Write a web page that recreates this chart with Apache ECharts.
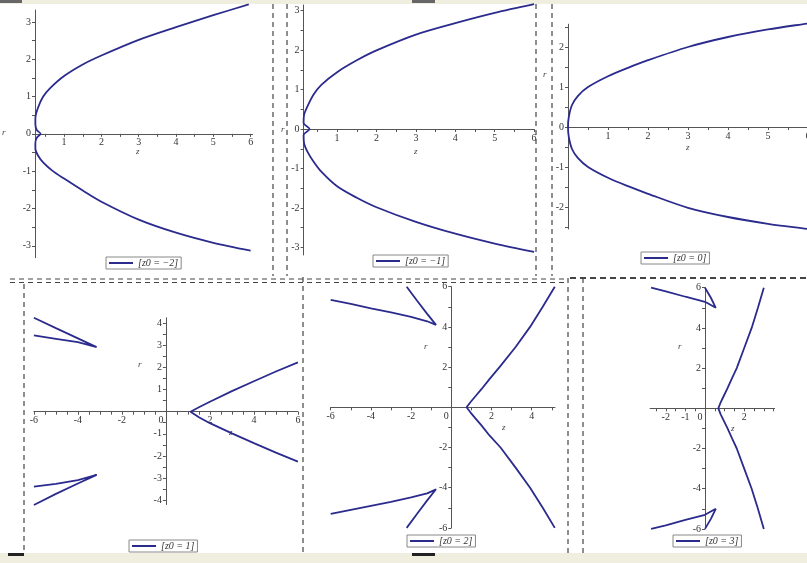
<!DOCTYPE html>
<html>
<head>
<meta charset="utf-8">
<script src="https://cdn.jsdelivr.net/npm/echarts@6/dist/echarts.min.js"></script>
<style>
html, body { margin: 0; padding: 0; background: #fff; }
#main { width: 807px; height: 563px; }
</style>
</head>
<body>
<div id="main"></div>
<script>
// --- curve points [z, r] ---
var zm2Curve = [[6.0,-3.13],[5,-2.92],[4,-2.65],[3,-2.3],[2,-1.82],[1.5,-1.52],[1,-1.2],[0.7,-1.0],[0.45,-0.78],[0.3,-0.58],[0.23,-0.4],[0.23,-0.25],[0.27,-0.1],[0.37,0],[0.27,0.1],[0.23,0.25],[0.23,0.42],[0.3,0.7],[0.44,1.0],[0.62,1.22],[1,1.55],[1.5,1.86],[2,2.1],[3,2.52],[4,2.86],[5,3.18],[5.95,3.47]];
var zm1Curve = [[6,-3.11],[5,-2.9],[4,-2.65],[3,-2.35],[2,-1.98],[1.5,-1.74],[1,-1.45],[0.6,-1.08],[0.4,-0.82],[0.25,-0.58],[0.16,-0.35],[0.15,-0.15],[0.3,0],[0.15,0.15],[0.16,0.35],[0.25,0.58],[0.4,0.87],[0.6,1.12],[1,1.44],[1.5,1.74],[2,1.99],[3,2.39],[4,2.68],[5,2.94],[6,3.16]];
var z0Curve = [[6.2,-2.58],[6,-2.55],[5,-2.42],[4,-2.25],[3,-2.02],[2,-1.67],[1.5,-1.48],[1,-1.27],[0.5,-1.0],[0.25,-0.78],[0.1,-0.55],[0.02,-0.25],[0,0],[0.02,0.25],[0.1,0.55],[0.25,0.78],[0.5,1.0],[1,1.27],[1.5,1.48],[2,1.67],[3,2.0],[4,2.25],[5,2.44],[6,2.59],[6.2,2.62]];

var z1Upper = [[-6,4.25],[-5,3.78],[-4,3.32],[-3.15,2.92],[-4,3.15],[-5,3.3],[-6,3.45]];
var z1Lower = [[-6,-4.22],[-5,-3.72],[-4,-3.25],[-3.15,-2.86],[-4,-3.1],[-5,-3.27],[-6,-3.39]];
var z1Right = [[6,-2.26],[5,-1.85],[4,-1.42],[3,-0.98],[2,-0.52],[1.5,-0.25],[1.12,0],[1.5,0.2],[2,0.45],[3,0.93],[4,1.38],[5,1.82],[6,2.23]];

var z2Upper = [[-6,5.34],[-5,5.14],[-4,4.92],[-3,4.72],[-2,4.5],[-1.2,4.28],[-0.76,4.1],[-1.2,4.65],[-1.7,5.3],[-2.22,6.0]];
var z2Lower = [[-6,-5.3],[-5,-5.1],[-4,-4.9],[-3,-4.7],[-2,-4.48],[-1.2,-4.28],[-0.76,-4.08],[-1.2,-4.63],[-1.7,-5.3],[-2.22,-6.0]];
var z2Right = [[5.15,-6],[4.55,-5],[3.92,-4],[3.2,-3],[2.45,-2],[1.9,-1.4],[1.5,-0.9],[1.2,-0.55],[0.95,-0.25],[0.76,0],[0.95,0.25],[1.2,0.55],[1.5,0.9],[1.9,1.4],[2.4,2.0],[3.2,3],[3.92,4],[4.55,5],[5.15,6]];

var z3Upper = [[-2.75,6],[-2,5.82],[-1,5.55],[0,5.3],[0.55,5.0],[0.3,5.5],[0,6.0]];
var z3Lower = [[-2.75,-6],[-2,-5.82],[-1,-5.55],[0,-5.3],[0.55,-5.0],[0.3,-5.5],[0,-6.0]];
var z3Right = [[3.0,-6],[2.7,-5],[2.38,-4],[2.0,-3],[1.62,-2],[1.38,-1.5],[1.15,-1.0],[0.95,-0.6],[0.8,-0.3],[0.68,0],[0.8,0.3],[0.95,0.6],[1.15,1.0],[1.38,1.5],[1.62,2],[2.0,3],[2.38,4],[2.7,5],[3.0,6]];

// --- tick labels / tick marks ---
var topXLabels = [1,2,3,4,5,6];
var topXTicks = [0.5,1,1.5,2,2.5,3,3.5,4,4.5,5,5.5,6];
var p12YLabels = [-3,-2,-1,0,1,2,3];
var p12YTicks = [-3,-2.5,-2,-1.5,-1,-0.5,0,0.5,1,1.5,2,2.5,3];
var p3YLabels = [-2,-1,0,1,2];
var p3YTicks = [-2.5,-2,-1.5,-1,-0.5,0,0.5,1,1.5,2,2.5];
var p4XLabels = [-6,-4,-2,0,2,4,6];
var p4XTicks = [-6,-5.5,-5,-4.5,-4,-3.5,-3,-2.5,-2,-1.5,-1,-0.5,0,0.5,1,1.5,2,2.5,3,3.5,4,4.5,5,5.5,6];
var p4YLabels = [-4,-3,-2,-1,1,2,3,4];
var p4YTicks = [-4,-3.5,-3,-2.5,-2,-1.5,-1,-0.5,0,0.5,1,1.5,2,2.5,3,3.5,4];
var p5XLabels = [-6,-4,-2,0,2,4];
var p5XTicks = [-6,-5,-4,-3,-2,-1,0,1,2,3,4,5];
var p56YLabels = [-6,-4,-2,2,4,6];
var p56YTicks = [-6,-5,-4,-3,-2,-1,0,1,2,3,4,5,6];
var p6XLabels = [-2,-1,0,2];
var p6XTicks = [-2.5,-2,-1.5,-1,-0.5,0,0.5,1,1.5,2,2.5,3,3.5];

var names = ['[z0 = −2]', '[z0 = −1]', '[z0 = 0]', '[z0 = 1]', '[z0 = 2]', '[z0 = 3]'];

var panels = [
  { pieces: [zm2Curve], smooth: 0.3, grid: [35, 10, 217.5, 247.7], x: [0.22, 6.05], y: [-3.32, 3.32],
    xLab: topXLabels, xTick: topXTicks, yLab: p12YLabels, yTick: p12YTicks,
    legend: [106, 257], r: [2, 128], z: [136, 147] },
  { pieces: [zm1Curve], smooth: 0.3, grid: [303.6, 5, 230.5, 250], x: [0.15, 6.0], y: [-3.19, 3.14],
    xLab: topXLabels, xTick: topXTicks, yLab: p12YLabels, yTick: p12YTicks,
    legend: [373, 255], r: [281, 125], z: [414, 147] },
  { pieces: [z0Curve], smooth: 0.3, grid: [568, 24.2, 244, 204.8], x: [0, 6.1], y: [-2.55, 2.57],
    xLab: topXLabels, xTick: topXTicks, yLab: p3YLabels, yTick: p3YTicks,
    legend: [641, 252], r: [543, 70], z: [686, 143] },
  { pieces: [z1Upper, z1Lower, z1Right], smooth: false, grid: [33.9, 317.8, 264, 186.7], x: [-6, 6], y: [-4.2, 4.25],
    xLab: p4XLabels, xTick: p4XTicks, yLab: p4YLabels, yTick: p4YTicks,
    legend: [129, 540], r: [138, 360], z: [229, 428] },
  { pieces: [z2Upper, z2Lower, z2Right], smooth: false, grid: [330.7, 286.7, 224.3, 241.2], x: [-6, 5.16], y: [-6, 6],
    xLab: p5XLabels, xTick: p5XTicks, yLab: p56YLabels, yTick: p56YTicks,
    legend: [407, 535], r: [424, 342], z: [502, 423] },
  { pieces: [z3Upper, z3Lower, z3Right], smooth: false, grid: [650.1, 287.7, 124.5, 241.2], x: [-2.8, 3.55], y: [-6, 6],
    xLab: p6XLabels, xTick: p6XTicks, yLab: p56YLabels, yTick: p56YTicks,
    legend: [673, 535], r: [678, 342], z: [731, 424] }
];

var axisColor = '#555';
var labelFont = 'Liberation Serif';
var lineColor = '#2b2b8e';

var grids = [], xAxes = [], yAxes = [], series = [], legends = [], graphics = [];

// shift an axis from the grid edge onto the other axis' zero
function zeroOffset(ext, size) {
  if (ext[0] >= 0 || ext[1] <= 0) return 0;
  return -(0 - ext[0]) / (ext[1] - ext[0]) * size;
}

panels.forEach(function (p, i) {
  grids.push({ left: p.grid[0], top: p.grid[1], width: p.grid[2], height: p.grid[3], outerBoundsMode: 'none' });
  xAxes.push({
    gridIndex: i, type: 'value', min: p.x[0], max: p.x[1], position: 'bottom',
    offset: zeroOffset(p.y, p.grid[3]),
    axisLine: { onZero: false, lineStyle: { color: axisColor, width: 1 } },
    splitLine: { show: false },
    axisTick: { customValues: p.xTick, length: 3, lineStyle: { color: axisColor } },
    axisLabel: {
      customValues: p.xLab, fontSize: 10, color: '#333', margin: 4, fontFamily: labelFont,
      formatter: function (v) { return v === 0 ? '{o|0}' : String(v); },
      rich: { o: { padding: [0, 10, 0, 0], fontSize: 10, fontFamily: labelFont, color: '#333' } }
    }
  });
  yAxes.push({
    gridIndex: i, type: 'value', min: p.y[0], max: p.y[1], position: 'left',
    offset: zeroOffset(p.x, p.grid[2]),
    axisLine: { onZero: false, lineStyle: { color: axisColor, width: 1 } },
    splitLine: { show: false },
    axisTick: { customValues: p.yTick, length: 3, lineStyle: { color: axisColor } },
    axisLabel: { customValues: p.yLab, fontSize: 10, color: '#333', margin: 4, fontFamily: labelFont }
  });
  p.pieces.forEach(function (d) {
    series.push({
      name: names[i], type: 'line', xAxisIndex: i, yAxisIndex: i, data: d,
      showSymbol: false, symbol: 'none', clip: false, smooth: p.smooth,
      lineStyle: { color: lineColor, width: 1.8 }, itemStyle: { color: lineColor }
    });
  });
  legends.push({
    data: [names[i]], left: p.legend[0], top: p.legend[1], selectedMode: false,
    icon: 'rect', itemWidth: 24, itemHeight: 2, itemGap: 4,
    padding: [1, 3, 1, 3], borderColor: '#888', borderWidth: 1, backgroundColor: '#fff',
    textStyle: { fontFamily: labelFont, fontStyle: 'italic', fontSize: 10, color: '#333' }
  });
  graphics.push({ type: 'text', left: p.r[0], top: p.r[1], style: { text: 'r', fontSize: 9, fontStyle: 'italic', fontFamily: labelFont, fill: '#444' } });
  graphics.push({ type: 'text', left: p.z[0], top: p.z[1], style: { text: 'z', fontSize: 9, fontStyle: 'italic', fontFamily: labelFont, fill: '#444' } });
});

// window strips and panel separators
var beige = '#efeedf';
graphics.push({ type: 'rect', shape: { x: 0, y: 0, width: 807, height: 4 }, style: { fill: beige } });
graphics.push({ type: 'rect', shape: { x: 0, y: 0, width: 22, height: 3 }, style: { fill: '#666' } });
graphics.push({ type: 'rect', shape: { x: 412, y: 0, width: 23, height: 3 }, style: { fill: '#666' } });
graphics.push({ type: 'rect', shape: { x: 0, y: 553, width: 807, height: 10 }, style: { fill: beige } });
graphics.push({ type: 'rect', shape: { x: 8, y: 553, width: 16, height: 3 }, style: { fill: '#222' } });
graphics.push({ type: 'rect', shape: { x: 412, y: 553, width: 23, height: 3 }, style: { fill: '#222' } });

function dash(x1, y1, x2, y2, w, d) {
  graphics.push({ type: 'line', shape: { x1: x1, y1: y1, x2: x2, y2: y2 },
    style: { stroke: '#444', lineWidth: w || 1.2, lineDash: d || [5, 4] } });
}
dash(273, 4, 273, 276); dash(287, 4, 287, 276);
dash(536, 4, 536, 276); dash(552, 4, 552, 276);
dash(10, 279, 565, 279); dash(10, 282.5, 565, 282.5);
dash(570, 278, 807, 278, 2, [6, 4]);
dash(24, 284, 24, 553); dash(303, 277, 303, 553);
dash(568, 278, 568, 553); dash(583, 278, 583, 553);

var chart = echarts.init(document.getElementById('main'));
chart.setOption({
  backgroundColor: '#fff',
  animation: false,
  grid: grids,
  xAxis: xAxes,
  yAxis: yAxes,
  legend: legends,
  series: series,
  graphic: graphics
});
</script>
</body>
</html>
